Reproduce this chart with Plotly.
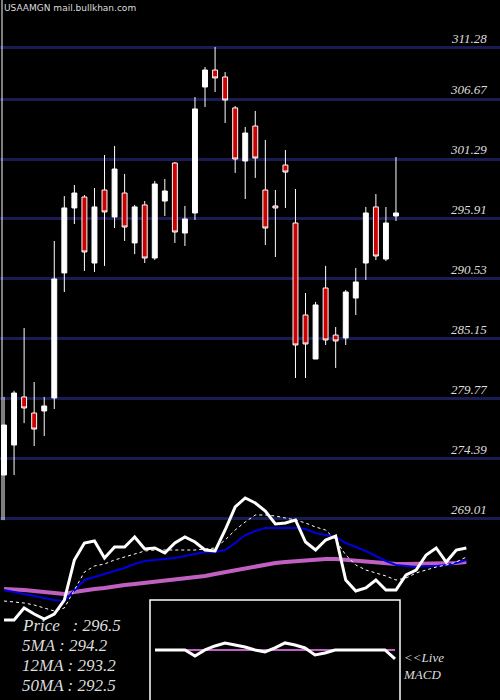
import plotly.graph_objects as go

# daily candles
opens = [272.95, 275.64, 279.95, 278.51, 278.69, 279.86, 291.07, 296.9, 297.88, 291.96,
         298.51, 296.09, 298.24, 293.76, 297.17, 292.41, 297.52, 300.93, 294.65, 296.45,
         307.75, 309.27, 308.65, 305.87, 301.11, 304.25, 298.51, 297.08, 300.75, 295.55,
         287.3, 283.35, 289.72, 285.5, 285.24, 288.82, 291.96, 296.99, 292.32, 296.18]
highs = [279.95, 280.5, 286.13, 281.29, 279.95, 293.94, 297.97, 298.96, 298.06, 298.69,
         301.65, 302.46, 299.95, 297.17, 297.52, 299.32, 299.5, 301.02, 297.08, 306.85,
         309.54, 311.34, 309.09, 306.04, 304.16, 305.6, 303.0, 298.51, 302.1, 298.6,
         289.27, 288.47, 291.7, 286.22, 289.54, 291.52, 296.99, 298.15, 296.99, 301.47]
lows = [268.9, 272.95, 277.6, 275.55, 276.45, 278.87, 289.36, 295.46, 291.25, 291.16,
        291.7, 295.1, 293.94, 292.77, 291.96, 292.23, 296.18, 293.76, 293.49, 295.82,
        305.95, 307.3, 304.52, 300.04, 297.7, 299.59, 293.58, 292.5, 296.9, 281.65,
        281.65, 283.35, 284.61, 282.55, 284.61, 287.3, 290.44, 292.23, 292.14, 295.73]
closes = [277.43, 280.3, 278.96, 277.07, 279.14, 290.53, 296.9, 298.24, 292.95, 296.99,
          296.54, 300.39, 295.19, 296.99, 292.41, 299.05, 298.42, 294.74, 295.91, 305.78,
          309.27, 308.56, 306.58, 301.29, 303.62, 301.38, 295.1, 296.9, 300.12, 284.61,
          284.7, 288.2, 285.06, 284.97, 289.36, 290.26, 296.45, 292.59, 295.55, 296.45]

price_levels = [311.28, 306.67, 301.29, 295.91, 290.53, 285.15, 279.77, 274.39, 269.01]

# indicator overlay (arbitrary units, 0 bottom .. 100 top)
osc_px = [620, 620, 608, 614, 619, 614, 600, 560, 543, 541, 558, 547, 547, 537, 549, 548,
          553, 543, 537, 542, 550, 551, 530, 507, 498, 503, 511, 524, 523, 520, 542, 550,
          540, 536, 580, 591, 588, 580, 590, 590, 575, 570, 555, 548, 562, 550, 548]
dot_px = [601, 602, 603, 605, 608, 611, 608, 590, 572, 566, 564, 560, 557, 554, 551, 550,
          550, 550, 550, 550, 549, 548, 540, 530, 522, 515, 515, 516, 518, 520, 523, 527,
          530, 540, 555, 565, 570, 573, 576, 580, 578, 573, 570, 567, 565, 562, 557]
blue_px = [590, 592, 594, 596, 598, 600, 601, 590, 580, 577, 574, 571, 568, 564, 561, 560,
           559, 558, 556, 554, 552, 552, 550, 543, 535, 531, 528, 528, 528, 528, 529, 533,
           535, 537, 543, 547, 551, 556, 561, 565, 566, 567, 566, 566, 565, 563, 560]
mag_px = [589, 589, 590, 591, 592, 593, 594, 592, 590, 589, 588, 586, 585, 584, 583, 582,
          581, 580, 579, 578, 576, 574, 572, 570, 568, 566, 564, 563, 562, 561, 560, 559,
          559, 559, 560, 561, 562, 563, 563, 564, 564, 564, 564, 563, 563, 563, 562]
to_units = lambda v: [(700 - p) / 7 for p in v]
osc, dotted, ma_blue, ma_mag = map(to_units, [osc_px, dot_px, blue_px, mag_px])

macd = [0, 0, 0, 0, -6, 0, 4, 7, 5, 3, 0, -2, 2, 7, 5, 2, -5, -3, 0, 0, 0, 0, 0, 0, -9]
macd_signal = [0] * len(macd)

n_ind = len(osc)
fig = go.Figure()
fig.add_trace(go.Candlestick(
    x=list(range(len(opens))), open=opens, high=highs, low=lows, close=closes,
    increasing=dict(fillcolor="white", line=dict(color="white", width=1)),
    decreasing=dict(fillcolor="#cc0000", line=dict(color="white", width=1)),
    whiskerwidth=0, showlegend=False))
xi = list(range(n_ind))
fig.add_trace(go.Scatter(x=xi, y=ma_mag, yaxis="y2", mode="lines",
                         line=dict(color="#c060c0", width=4), showlegend=False))
fig.add_trace(go.Scatter(x=xi, y=ma_blue, yaxis="y2", mode="lines",
                         line=dict(color="#0000dd", width=2), showlegend=False))
fig.add_trace(go.Scatter(x=xi, y=dotted, yaxis="y2", mode="lines",
                         line=dict(color="white", width=1, dash="dot"), showlegend=False))
fig.add_trace(go.Scatter(x=xi, y=osc, yaxis="y2", mode="lines",
                         line=dict(color="white", width=3), showlegend=False))
mx = list(range(len(macd)))
fig.add_trace(go.Scatter(x=mx, y=macd_signal, xaxis="x3", yaxis="y3", mode="lines",
                         line=dict(color="#c060c0", width=2), showlegend=False))
fig.add_trace(go.Scatter(x=mx, y=macd, xaxis="x3", yaxis="y3", mode="lines",
                         line=dict(color="white", width=3), showlegend=False))

fig.update_layout(
    width=500, height=700, margin=dict(l=0, r=0, t=0, b=0),
    paper_bgcolor="black", plot_bgcolor="black",
    font=dict(family="Liberation Serif", color="white"),
    xaxis=dict(range=[-0.4, 49.35], visible=False, rangeslider=dict(visible=False)),
    yaxis=dict(range=[252.77, 315.55], tickvals=price_levels, showticklabels=False,
               gridcolor="#1c1c55", gridwidth=3, zeroline=False),
    yaxis2=dict(range=[0, 100], overlaying="y", visible=False),
    xaxis3=dict(domain=[0.3, 0.8], range=[-0.5, 24.5], visible=False, anchor="y3"),
    yaxis3=dict(domain=[0, 0.143], range=[-50, 50], visible=False, anchor="x3"),
)

for lv in price_levels:
    fig.add_annotation(x=0.978, y=lv, xref="paper", yref="y", text=f"<i>{lv:.2f}</i>",
                       showarrow=False, xanchor="right", yanchor="bottom",
                       font=dict(size=13, color="#dddddd"))

fig.add_shape(type="rect", xref="paper", yref="paper", x0=0.3, x1=0.8, y0=-0.002, y1=0.143,
              line=dict(color="white", width=1.5))
fig.add_shape(type="line", xref="paper", yref="paper", x0=0.004, x1=0.004, y0=0.257, y1=1,
              line=dict(color="white", width=1))

fig.add_annotation(x=0.004, y=0.998, xref="paper", yref="paper", text="USAAMGN mail.bullkhan.com",
                   showarrow=False, xanchor="left", yanchor="top",
                   font=dict(family="DejaVu Sans", size=9, color="#dddddd"))

legend_lines = ["Price   : 296.5", "5MA : 294.2", "12MA : 293.2", "50MA : 292.5"]
for k, t in enumerate(legend_lines):
    fig.add_annotation(x=0.04, y=(700 - 625 - 20 * k) / 700, xref="paper", yref="paper",
                       text=f"<i>{t}</i>", showarrow=False, xanchor="left", yanchor="middle",
                       font=dict(size=17, color="#dddddd"))

fig.add_annotation(x=0.802, y=(700 - 666) / 700, xref="paper", yref="paper",
                   text="<i>&lt;&lt;Live<br>MACD</i>", showarrow=False, xanchor="left",
                   yanchor="middle", align="left", font=dict(size=13, color="#dddddd"))

# page has a default body margin; drop it so the chart fills the window
fig.write_html("out.html", config={"displayModeBar": False},
               post_script="document.body.style.margin='0';")
